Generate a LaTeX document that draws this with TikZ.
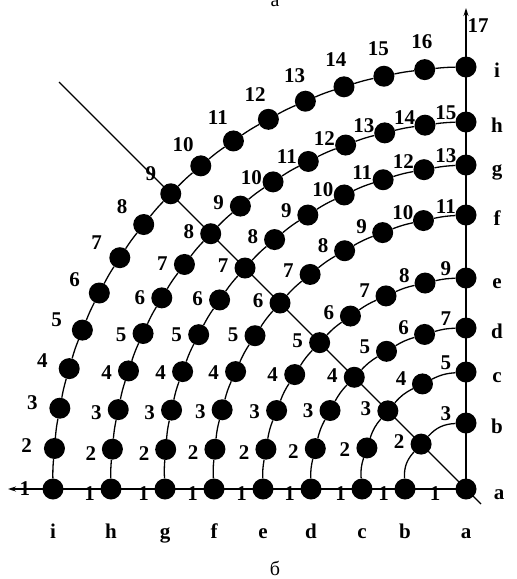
\documentclass[tikz,border=0pt]{standalone}
\usepackage{fontspec}
\setmainfont{Liberation Serif}
\usetikzlibrary{arrows.meta}

\begin{document}
\begin{tikzpicture}[x=1pt, y=-1pt,
  dot/.style={circle, fill=black, inner sep=0pt, minimum size=21pt},
  num/.style={font=\bfseries\fontsize{21}{21}\selectfont, inner sep=0pt},
  lett/.style={num, anchor=base},
  captext/.style={font=\fontsize{20}{20}\selectfont, inner sep=0pt, anchor=base},
  link/.style={line width=1.3pt},
  axis/.style={line width=1.1pt, -{Stealth[length=8pt, width=5pt]}}
]
  \useasboundingbox (0,0) rectangle (517,579);

  % origin = node a
  \node[dot] (a1) at (466,489) {};
  \node[num] (a1t) at (435,494) {1};
  \node[lett] (a-rgt) at (499,499) {a};
  \node[lett] (a-bot) at (466,538) {a};

  % axes and diagonal
  \coordinate (xend) at (8,489);
  \coordinate (yend) at (466,8);
  \coordinate (dtop) at (59,82);
  \coordinate (dbot) at (481,504);
  \draw[axis] (a1.center) -- (xend);
  \draw[axis] (a1.center) -- (yend);
  \draw[line width=1.1pt] (dtop) -- (dbot);

  % rings: name / rx / ry / steps / label dist / label angle start, slope
  \foreach \cv/\rx/\ry/\mm/\dd/\pa/\pb in {
      b/61/66/2/22/-13/0.41, c/104/117/4/22/-13/0.41,
      d/155/161/6/22/-13/0.41, e/203/211/8/22/-13/0.41,
      f/252/274/10/22/-13/0.41, g/301/324/12/22/-13/0.41,
      h/355/367/14/22/-13/0.41, i/413/422/16/28/0/1} {
    \foreach \j in {0,...,\mm} {
      \pgfmathtruncatemacro\nn{\j+1}
      \pgfmathsetmacro\ph{90*\j/\mm}
      \pgfmathsetmacro\rr{\rx+(\ry-\rx)*\j/\mm}
      \pgfmathsetmacro\xx{466-\rr*cos(\ph)}
      \pgfmathsetmacro\yy{489-\rr*sin(\ph)}
      \node[dot] (\cv\nn) at (\xx,\yy) {};
      \pgfmathsetmacro\ps{\pa+\pb*\ph}
      \pgfmathsetmacro\lx{\xx-\dd*cos(\ps)}
      \pgfmathsetmacro\ly{\yy-\dd*sin(\ps)}
      \ifnum\nn=17
        \node[num] (\cv\nn t) at (478,26) {\nn};
      \else
        \node[num] (\cv\nn t) at (\lx,\ly) {\nn};
      \fi
    }
    \pgfmathsetmacro\bb{45/\mm}
    \foreach \j [evaluate=\j as \jn using int(\j+1)] in {1,...,\mm}
      \draw[link] (\cv\j) to[bend left=\bb] (\cv\jn);
    \pgfmathsetmacro\bx{466-\rx}
    \pgfmathsetmacro\ty{499-\ry}
    \node[lett] (\cv-bot) at (\bx,538) {\cv};
    \node[lett] (\cv-rgt) at (497,\ty) {\cv};
  }

  \node[captext] (capa) at (275,6) {а};
  \node[captext] (capb) at (275,575) {б};
\end{tikzpicture}
\end{document}
